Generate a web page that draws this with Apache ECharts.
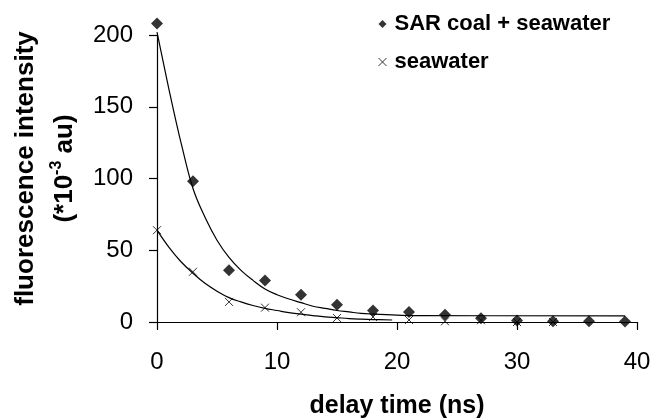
<!DOCTYPE html>
<html>
<head>
<meta charset="utf-8">
<script src="https://cdn.jsdelivr.net/npm/echarts@6/dist/echarts.min.js"></script>
<style>
  html, body { margin: 0; padding: 0; background: #fff; }
  #chart { width: 652px; height: 418px; }
</style>
</head>
<body>
<div id="chart"></div>
<script>
// measured points (delay time in ns, intensity in 10^-3 au)
const coalTimes = [0, 3, 6, 9, 12, 15, 18, 21, 24, 27, 30, 33, 36, 39];
const coalValues = [208, 98, 36, 29, 19, 12, 8, 7, 5, 2.6, 1, 0.5, 0.5, 0.3];
const waterTimes = [0, 3, 6, 9, 12, 15, 18, 21, 24, 27, 30, 33];
const waterValues = [64, 35, 14, 10, 6.8, 2.8, 3.5, 1.4, 0.5, 1.2, 0, 0];

// fitted curves
const coalFitTimes = [0, 1, 1.5, 2, 3, 4, 5, 6, 7, 8, 9, 10, 11, 12, 13, 14, 15, 16, 17, 18, 20, 22, 39];
const coalFitValues = [202, 162, 143, 125, 93, 73, 57, 45, 36, 29, 23, 19, 16, 13.5, 11, 9.5, 8, 7, 6, 5.5, 4.8, 4.4, 4.3];
const waterFitTimes = [0, 1, 2, 3, 4, 5, 6, 7, 8, 9, 10, 11, 12, 13, 14, 15, 16, 17, 18, 19.6];
const waterFitValues = [64, 52, 42, 34, 27, 21.5, 17, 14, 11.5, 9.5, 8, 6.5, 5.5, 4.5, 3.6, 3, 2.4, 2, 1.7, 1.4];

const xTicks = [0, 10, 20, 30, 40];
const yTicks = [0, 50, 100, 150, 200];

const pair = (xs, ys) => xs.map((x, i) => [x, ys[i]]);

const crossPath = 'path://M0,0L10,10M10,0L0,10';
const font = 'Liberation Sans, Arial, sans-serif';

const chart = echarts.init(document.getElementById('chart'), null, { renderer: 'canvas' });

const option = {
  backgroundColor: '#fff',
  animation: false,
  textStyle: { fontFamily: font },
  grid: { left: 157, right: 15, top: 35, bottom: 96, containLabel: false, outerBoundsMode: 'none' },
  legend: {
    orient: 'vertical',
    left: 373,
    top: 8,
    itemGap: 16,
    itemWidth: 8,
    itemHeight: 8,
    data: [
      { name: 'SAR coal + seawater', icon: 'diamond' },
      { name: 'seawater', icon: crossPath,
        itemStyle: { color: 'transparent', borderColor: '#000', borderWidth: 1 } }
    ],
    textStyle: { fontFamily: font, fontSize: 22, fontWeight: 'bold', color: '#000', padding: [0, 0, 0, 3] }
  },
  xAxis: {
    type: 'value',
    min: xTicks[0],
    max: xTicks[xTicks.length - 1],
    interval: 10,
    name: 'delay time (ns)',
    nameLocation: 'middle',
    nameGap: 72,
    nameTextStyle: { fontFamily: font, fontSize: 25, fontWeight: 'bold', color: '#000' },
    axisLine: { onZero: false, lineStyle: { color: '#000', width: 1.2 } },
    axisTick: { show: true, length: 8, lineStyle: { color: '#000', width: 1.2 } },
    axisLabel: { margin: 28, fontFamily: font, fontSize: 24, color: '#000' },
    splitLine: { show: false }
  },
  yAxis: {
    type: 'value',
    min: yTicks[0],
    max: yTicks[yTicks.length - 1],
    interval: 50,
    name: '{t|fluorescence intensity}\n{t|(*10}{s|-3}{t| au)}',
    nameLocation: 'middle',
    nameRotate: 90,
    nameGap: 73,
    nameTextStyle: {
      color: '#000',
      padding: [0, 0, 0, 20],
      rich: {
        t: { fontFamily: font, fontSize: 26, fontWeight: 'bold', color: '#000', lineHeight: 39 },
        s: { fontFamily: font, fontSize: 16, fontWeight: 'bold', color: '#000', lineHeight: 39, padding: [0, 0, 15, 0] }
      }
    },
    axisLine: { show: true, lineStyle: { color: '#000', width: 1.2 } },
    axisTick: { show: true, length: 8, lineStyle: { color: '#000', width: 1.2 } },
    axisLabel: { margin: 24, fontFamily: font, fontSize: 24, color: '#000' },
    splitLine: { show: false }
  },
  series: [
    {
      name: 'SAR coal + seawater',
      type: 'scatter',
      symbol: 'diamond',
      symbolSize: 12,
      clip: false,
      itemStyle: { color: '#000' },
      data: pair(coalTimes, coalValues),
      z: 3
    },
    {
      name: 'seawater',
      type: 'scatter',
      symbol: crossPath,
      symbolSize: 8,
      clip: false,
      itemStyle: { color: 'transparent', borderColor: '#000', borderWidth: 1 },
      data: pair(waterTimes, waterValues),
      z: 3
    },
    {
      name: 'coal fit',
      type: 'line',
      smooth: 0.4,
      showSymbol: false,
      clip: false,
      lineStyle: { color: '#000', width: 1.2 },
      data: pair(coalFitTimes, coalFitValues),
      z: 2
    },
    {
      name: 'water fit',
      type: 'line',
      smooth: 0.4,
      showSymbol: false,
      clip: false,
      lineStyle: { color: '#000', width: 1.2 },
      data: pair(waterFitTimes, waterFitValues),
      z: 2
    }
  ]
};

chart.setOption(option);
</script>
</body>
</html>
